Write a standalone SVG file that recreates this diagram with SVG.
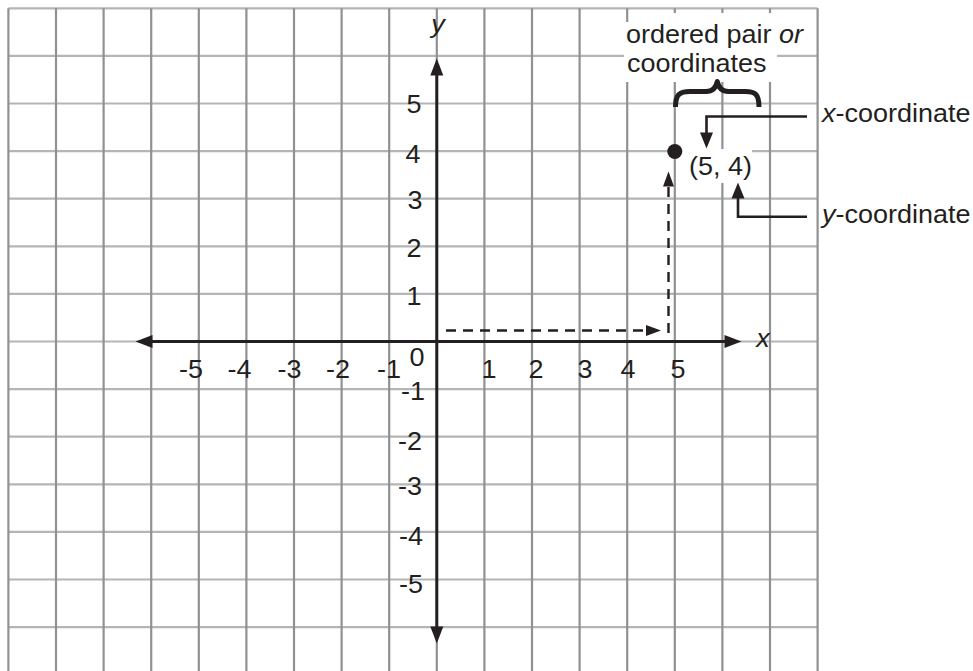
<svg xmlns="http://www.w3.org/2000/svg" width="973" height="671" viewBox="0 0 973 671">
<style>
.gv{stroke:#909194;stroke-width:2.2;fill:none}
.gh{stroke:#b4b5b7;stroke-width:2.2;fill:none}
.ax{stroke:#231f20;stroke-width:3;fill:none}
.ld{stroke:#231f20;stroke-width:2.6;fill:none}
.ds{stroke:#231f20;stroke-width:2.4;fill:none;stroke-dasharray:10 7}
text{font-family:"Liberation Sans",Arial,Helvetica,sans-serif;font-size:25px;fill:#231f20}
.n{text-anchor:middle}
.it{font-style:italic}
</style>
<defs>
<marker id="ah" markerUnits="userSpaceOnUse" markerWidth="18" markerHeight="14" refX="0.5" refY="7" orient="auto-start-reverse" overflow="visible"><path d="M0,0.5 L17,7 L0,13.5 z" fill="#231f20"/></marker>
<marker id="ahs" markerUnits="userSpaceOnUse" markerWidth="17" markerHeight="14" refX="0.5" refY="7" orient="auto" overflow="visible"><path d="M0,0.5 L16,7 L0,13.5 z" fill="#231f20"/></marker>
<marker id="ahd" markerUnits="userSpaceOnUse" markerWidth="16" markerHeight="12" refX="0.5" refY="6" orient="auto" overflow="visible"><path d="M0,0.5 L15,6 L0,11.5 z" fill="#231f20"/></marker>
</defs>
<rect width="973" height="671" fill="#fff"/>
<g id="grid">
<path class="gh" d="M8.4,8.3H817.6M8.4,55.9H817.6M8.4,103.5H817.6M8.4,151.1H817.6M8.4,198.7H817.6M8.4,246.3H817.6M8.4,293.9H817.6M8.4,341.5H817.6M8.4,389.1H817.6M8.4,436.7H817.6M8.4,484.3H817.6M8.4,531.9H817.6M8.4,579.5H817.6M8.4,627.1H817.6"/>
<path class="gv" d="M8.4,8.3V671M56,8.3V671M103.6,8.3V671M151.2,8.3V671M198.8,8.3V671M246.4,8.3V671M294,8.3V671M341.6,8.3V671M389.2,8.3V671M436.8,8.3V671M484.4,8.3V671M532,8.3V671M579.6,8.3V671M627.2,8.3V671M674.8,8.3V671M722.4,8.3V671M770,8.3V671M817.6,8.3V671"/>
<path d="M630,13H806V50H777V82H624V22H630z" fill="#fff"/>
<rect x="682" y="149" width="70" height="34" fill="#fff"/>
</g>
<g id="connectors">
<path id="x-axis" class="ax" d="M152,341.5H725" marker-start="url(#ah)" marker-end="url(#ah)"/>
<path id="y-axis" class="ax" d="M436.8,75V627" marker-start="url(#ah)" marker-end="url(#ah)"/>
<path id="dash-x" class="ds" d="M446,330.5H646.5" marker-end="url(#ahd)"/>
<path id="dash-y" class="ds" d="M668.5,333V186" marker-end="url(#ahd)"/>
<path id="lead-x" class="ld" d="M807,116.5H706.5V133" marker-end="url(#ahs)"/>
<path id="lead-y" class="ld" d="M807,216.7H738V198" marker-end="url(#ahs)"/>
<path id="brace" d="M675.5,107 C675.5,95 679,91.5 690,91.5 L706,91.5 C712.5,91.5 716,88 717.3,81.5 C718.6,88 722,91.5 728.5,91.5 L745,91.5 C756,91.5 759,95 759,107" fill="none" stroke="#231f20" stroke-width="5" stroke-linejoin="round"/>
</g>
<g id="point"><circle cx="674.8" cy="151.5" r="7.5" fill="#231f20"/></g>
<g id="axis-titles">
<text class="n it" transform="translate(438,33) scale(1.08,1)">y</text>
<text class="n it" transform="translate(763,347) scale(1.08,1)">x</text>
</g>
<g id="x-labels">
<text class="n" transform="translate(191,378) scale(1.08,1)">-5</text>
<text class="n" transform="translate(239.5,378) scale(1.08,1)">-4</text>
<text class="n" transform="translate(289.5,378) scale(1.08,1)">-3</text>
<text class="n" transform="translate(338,378) scale(1.08,1)">-2</text>
<text class="n" transform="translate(389,378) scale(1.08,1)">-1</text>
<text class="n" transform="translate(417,366) scale(1.08,1)">0</text>
<text class="n" transform="translate(489,378) scale(1.08,1)">1</text>
<text class="n" transform="translate(536,378) scale(1.08,1)">2</text>
<text class="n" transform="translate(585,378) scale(1.08,1)">3</text>
<text class="n" transform="translate(628,378) scale(1.08,1)">4</text>
<text class="n" transform="translate(678,378) scale(1.08,1)">5</text>
</g>
<g id="y-labels">
<text class="n" transform="translate(414,113) scale(1.08,1)">5</text>
<text class="n" transform="translate(413,163) scale(1.08,1)">4</text>
<text class="n" transform="translate(415,209) scale(1.08,1)">3</text>
<text class="n" transform="translate(414,257) scale(1.08,1)">2</text>
<text class="n" transform="translate(414,305) scale(1.08,1)">1</text>
<text class="n" transform="translate(413,400) scale(1.08,1)">-1</text>
<text class="n" transform="translate(410,450) scale(1.08,1)">-2</text>
<text class="n" transform="translate(410,495) scale(1.08,1)">-3</text>
<text class="n" transform="translate(411,545) scale(1.08,1)">-4</text>
<text class="n" transform="translate(411,593) scale(1.08,1)">-5</text>
</g>
<g id="ordered-pair-label">
<text transform="translate(626,43) scale(1.08,1)">ordered pair <tspan class="it">or</tspan></text>
<text transform="translate(627,72) scale(1.08,1)">coordinates</text>
</g>
<g id="pair-label"><text transform="translate(689,174.5) scale(1.08,1)">(5, 4)</text></g>
<g id="x-coordinate-label"><text transform="translate(822,122) scale(1.08,1)"><tspan class="it">x</tspan>-coordinate</text></g>
<g id="y-coordinate-label"><text transform="translate(822,223) scale(1.08,1)"><tspan class="it">y</tspan>-coordinate</text></g>
</svg>
